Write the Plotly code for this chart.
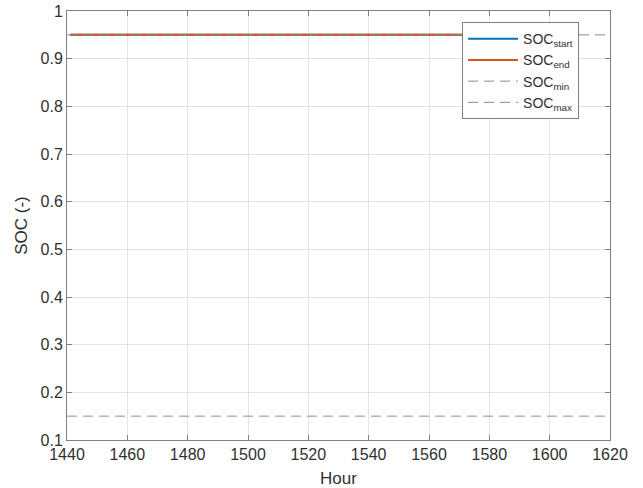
import plotly.graph_objects as go

hours = list(range(1441, 1609))
soc_start = [0.95] * len(hours)
soc_end = [0.95] * len(hours)
limit_hours = [1440, 1620]
soc_min = [0.15, 0.15]
soc_max = [0.95, 0.95]
x_ticks = [1440, 1460, 1480, 1500, 1520, 1540, 1560, 1580, 1600, 1620]
y_ticks = [0.1, 0.2, 0.3, 0.4, 0.5, 0.6, 0.7, 0.8, 0.9, 1.0]
y_tick_labels = ["0.1", "0.2", "0.3", "0.4", "0.5", "0.6", "0.7", "0.8", "0.9", "1"]

fig = go.Figure()
fig.add_trace(go.Scatter(x=hours, y=soc_start, mode="lines", name="SOC<sub>start</sub>",
                         line=dict(color="#0072BD", width=2)))
fig.add_trace(go.Scatter(x=hours, y=soc_end, mode="lines", name="SOC<sub>end</sub>",
                         line=dict(color="#D95319", width=2)))
fig.add_trace(go.Scatter(x=limit_hours, y=soc_min, mode="lines", name="SOC<sub>min</sub>",
                         line=dict(color="#8a8a8a", width=1, dash="10px,6px")))
fig.add_trace(go.Scatter(x=limit_hours, y=soc_max, mode="lines", name="SOC<sub>max</sub>",
                         line=dict(color="#8a8a8a", width=1, dash="10px,6px")))

axis_common = dict(
    showgrid=True, gridcolor="#e3e3e3", gridwidth=1,
    showline=True, linecolor="#808080", linewidth=1, mirror="ticks",
    ticks="inside", ticklen=5, tickcolor="#808080",
    zeroline=False, automargin=False,
    tickfont=dict(family="Liberation Sans, Arial, sans-serif", size=16, color="#303030"),
)

fig.update_layout(
    width=643, height=488,
    margin=dict(l=67, r=33, t=11, b=48),
    paper_bgcolor="white", plot_bgcolor="white",
    font=dict(family="Liberation Sans, Arial, sans-serif", color="#303030"),
    xaxis=dict(range=[1440, 1620], tickvals=x_ticks,
               title=dict(text="Hour", font=dict(size=17), standoff=13), **axis_common),
    yaxis=dict(range=[0.1, 1.0], tickvals=y_ticks, ticktext=y_tick_labels,
               title=dict(text="SOC (-)", font=dict(size=17), standoff=8), **axis_common),
    legend=dict(x=0.943, y=0.974, xanchor="right", yanchor="top",
                bgcolor="white", bordercolor="#808080", borderwidth=1,
                font=dict(size=14, color="#303030"), tracegroupgap=0,
                itemwidth=50),
    showlegend=True,
)

fig.write_html("out.html", config={"displayModeBar": False},
               post_script="document.body.style.margin='0px';document.body.style.overflow='hidden';")
